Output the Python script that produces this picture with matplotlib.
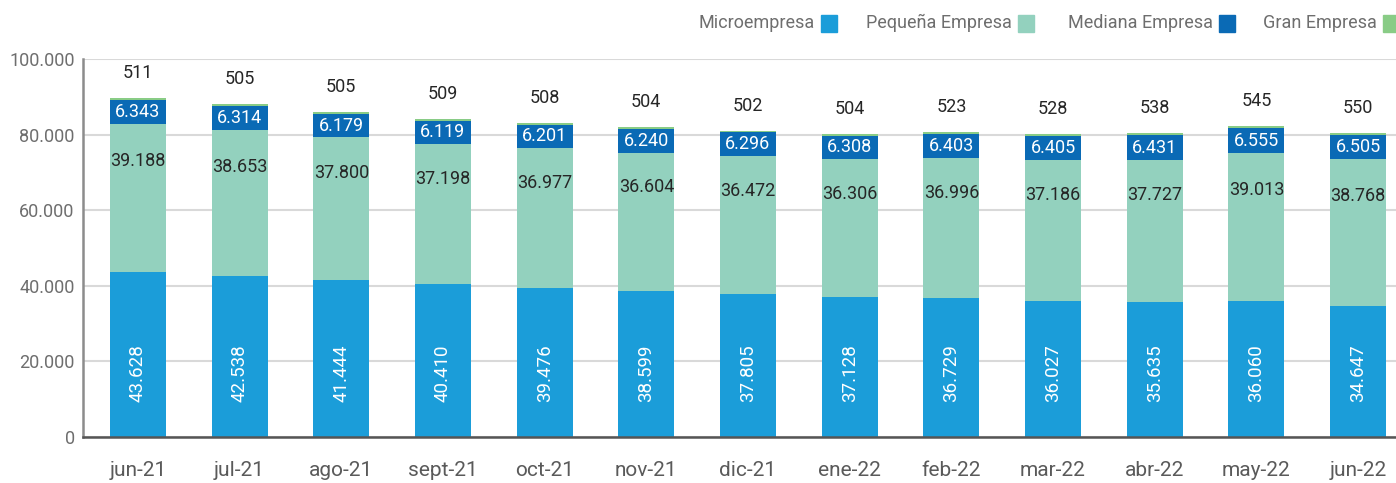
import matplotlib
matplotlib.use("Agg")
import matplotlib.pyplot as plt
from matplotlib.patches import Rectangle
import numpy as np

# Data
months = ["jun-21", "jul-21", "ago-21", "sept-21", "oct-21", "nov-21", "dic-21",
          "ene-22", "feb-22", "mar-22", "abr-22", "may-22", "jun-22"]
micro = [43628, 42538, 41444, 40410, 39476, 38599, 37805,
         37128, 36729, 36027, 35635, 36060, 34647]
pequena = [39188, 38653, 37800, 37198, 36977, 36604, 36472,
           36306, 36996, 37186, 37727, 39013, 38768]
mediana = [6343, 6314, 6179, 6119, 6201, 6240, 6296,
           6308, 6403, 6405, 6431, 6555, 6505]
gran = [511, 505, 505, 509, 508, 504, 502,
        504, 523, 528, 538, 545, 550]
series_names = ["Microempresa", "Pequeña Empresa", "Mediana Empresa", "Gran Empresa"]
colors = ["#1b9dd9", "#93d1be", "#0a6ab5", "#89cc86"]

def fmt(v):
    return f"{v:,}".replace(",", ".")

label_font = ["Roboto", "DejaVu Sans"]
axis_font = ["Roboto", "DejaVu Sans"]

W, H = 1396, 483
fig = plt.figure(figsize=(W / 100, H / 100), dpi=100)
ax = fig.add_axes([83 / W, 46 / H, 1330 / W, 378 / H])

x = np.arange(len(months))
micro_a = np.array(micro)
peq_a = np.array(pequena)
med_a = np.array(mediana)
gran_a = np.array(gran)
width = 0.55

b1 = micro_a
b2 = b1 + peq_a
b3 = b2 + med_a
tops = b3 + gran_a

ax.bar(x, micro_a, width, color=colors[0], zorder=3)
ax.bar(x, peq_a, width, bottom=b1, color=colors[1], zorder=3)
ax.bar(x, med_a, width, bottom=b2, color=colors[2], zorder=3)
ax.bar(x, gran_a, width, bottom=b3, color=colors[3], zorder=3)

# data labels
for i in range(len(months)):
    ax.annotate(fmt(micro[i]), (x[i], 0), xytext=(0, 25), textcoords="offset points",
                rotation=90, ha="center", va="bottom", color="white",
                fontsize=13.5, family=label_font, zorder=4)
    ax.text(x[i], b1[i] + 0.75 * peq_a[i], fmt(pequena[i]), ha="center", va="center",
            color="#262626", fontsize=13, family=label_font, zorder=4)
    ax.text(x[i], b2[i] + med_a[i] / 2, fmt(mediana[i]), ha="center", va="center",
            color="white", fontsize=13, family=label_font, zorder=4)
    ax.annotate(fmt(gran[i]), (x[i], tops[i]), xytext=(0, 18), textcoords="offset points",
                ha="center", va="center", color="#262626",
                fontsize=13, family=label_font, zorder=4)

ax.set_xlim(-0.54, 12.54)
ax.set_ylim(0, 100000)
ax.set_yticks(np.arange(0, 100001, 20000))
ax.set_yticklabels([fmt(v) for v in range(0, 100001, 20000)])
ax.set_xticks(x)
ax.set_xticklabels(months)
ax.tick_params(axis="y", length=0, pad=6, labelsize=13, labelcolor="#6e6e6e")
ax.tick_params(axis="x", length=0, pad=17, labelsize=15, labelcolor="#5a5a5a")
for lab in ax.get_xticklabels() + ax.get_yticklabels():
    lab.set_family(axis_font)

ax.grid(axis="y", color="#d9d9d9", linewidth=1.5, zorder=0)
ax.set_axisbelow(True)
for s in ["top", "right"]:
    ax.spines[s].set_visible(False)
ax.spines["left"].set_color("#8c8c8c")
ax.spines["left"].set_linewidth(1.8)
ax.spines["bottom"].set_color("#555555")
ax.spines["bottom"].set_linewidth(1.8)
ax.spines["bottom"].set_zorder(5)

# legend: text followed by a square
text_ends = [815, 1012, 1213, 1377]
for name, col, xe in zip(series_names, colors, text_ends):
    fig.text(xe / W, 1 - 23 / H, name, ha="right", va="center", fontsize=13,
             color="#6e6e6e", family=axis_font)
    fig.patches.append(Rectangle(((xe + 6) / W, 1 - 32 / H), 16 / W, 17 / H,
                                 transform=fig.transFigure, color=col))

fig.savefig("out.png", dpi=100)
